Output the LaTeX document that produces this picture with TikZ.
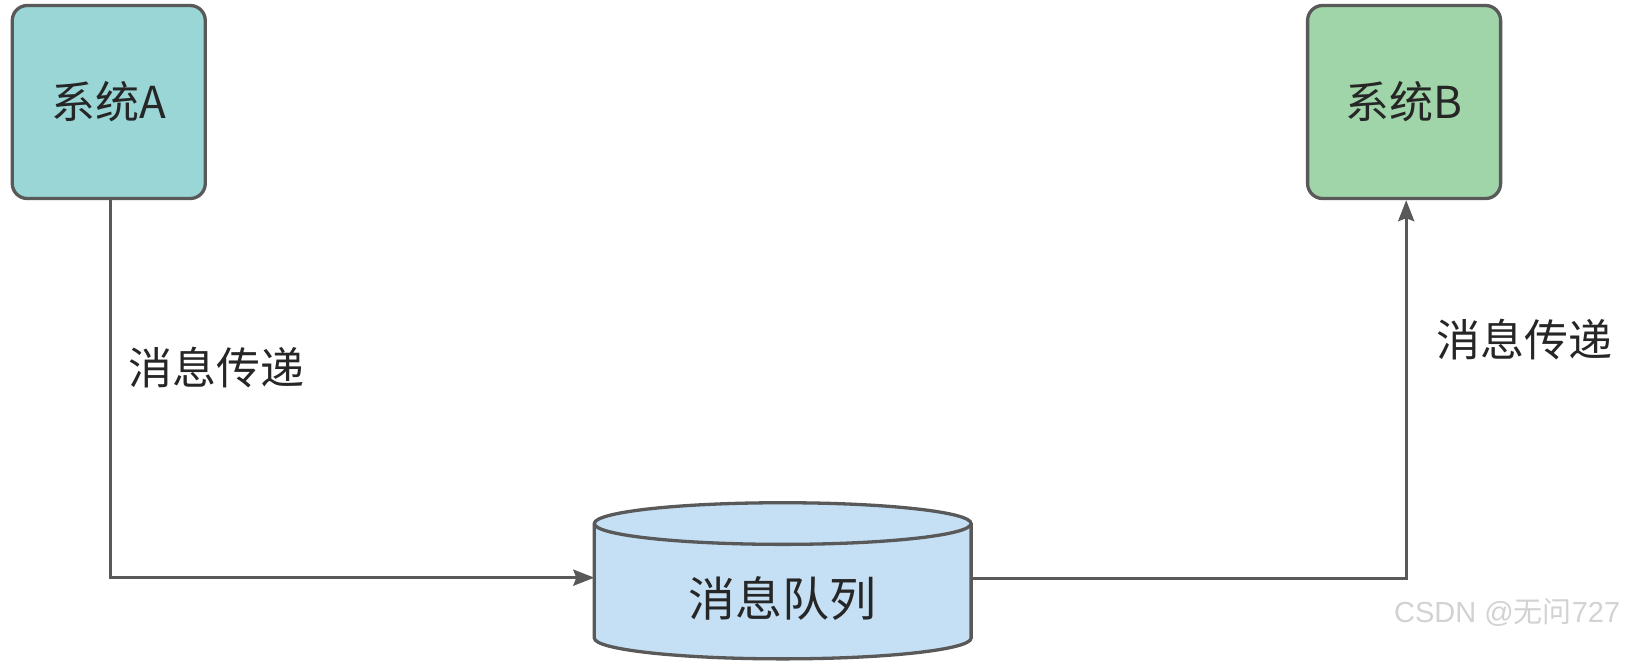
\documentclass[tikz,border=0pt]{standalone}
\usepackage{fontspec}
\setmainfont{Noto Sans CJK SC}
\newfontfamily\wmlatin{Liberation Sans}
\usetikzlibrary{arrows.meta}
\definecolor{edgegray}{HTML}{595959}
\definecolor{txtgray}{HTML}{262626}
\definecolor{fillA}{HTML}{9AD6D6}
\definecolor{fillB}{HTML}{A0D5A9}
\definecolor{fillQ}{HTML}{C5E0F4}
\definecolor{wmgray}{HTML}{D2D2D2}
\tikzset{
  sysbox/.style={draw=edgegray, line width=3.3pt, rounded corners=15pt, minimum width=193pt, minimum height=193pt, inner sep=0pt, text=txtgray, font=\fontsize{44}{48}\selectfont},
  conn/.style={draw=edgegray, line width=3.3pt, -{Stealth[length=21pt,width=16pt,inset=3pt]}},
  lbl/.style={text=txtgray, font=\fontsize{44}{48}\selectfont, inner sep=0pt, anchor=west},
}
\begin{document}
\begin{tikzpicture}[x=1.0408pt,y=1.0408pt]
\useasboundingbox (0,0) rectangle (1567,-639);
\node[sysbox, fill=fillA] (A) at (104.5,-98) {\raisebox{-3pt}{系统A}};
\node[sysbox, fill=fillB] (B) at (1349,-98) {\raisebox{-3pt}{系统B}};
% cylinder
\filldraw[fill=fillQ, draw=edgegray, line width=3.3pt]
  (571,-503) -- (571,-613) arc[start angle=180,end angle=360,x radius=181,y radius=20]
  -- (933,-503) arc[start angle=0,end angle=180,x radius=181,y radius=20] -- cycle;
\draw[edgegray, line width=3.3pt] (571,-503) arc[start angle=180,end angle=360,x radius=181,y radius=20];
\node[text=txtgray, font=\fontsize{47}{51}\selectfont, inner sep=0pt] (Q) at (752,-575) {消息队列};
\coordinate (qw) at (571,-555);
\coordinate (qe) at (933,-556);
\coordinate (ca) at (106,-555);
\coordinate (cb) at (1351,-556);
\draw[conn] (A.south -| ca) -- (ca) -- (qw);
\draw[conn] (qe) -- (cb) -- (B.south -| cb);
\node[lbl] (L1) at (123,-353) {消息传递};
\node[lbl] (L2) at (1380,-326) {消息传递};
\node[text=wmgray, font=\fontsize{29}{32}\selectfont, inner sep=0pt] (W) at (1448,-588) {{\wmlatin CSDN @}无问{\wmlatin 727}};
\end{tikzpicture}
\end{document}
